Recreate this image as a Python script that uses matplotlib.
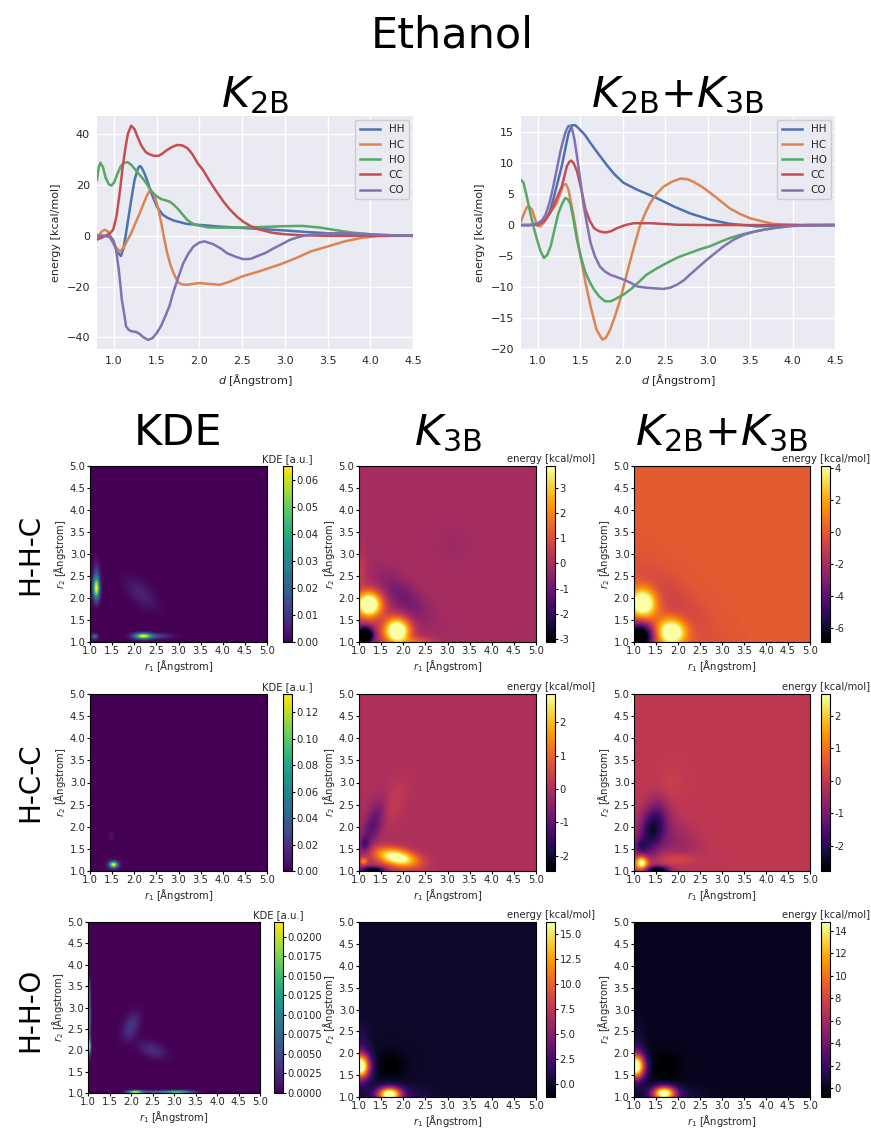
import numpy as np
import matplotlib.pyplot as plt

# ---------------- pair potentials ----------------
pairs = ["HH", "HC", "HO", "CC", "CO"]
pair_colors = ["#4c72b0", "#dd8452", "#55a868", "#c44e52", "#8172b3"]

# K_2B
k2b_hh_d = [0.8, 0.9, 0.95, 1.0, 1.04, 1.08, 1.11, 1.14, 1.17, 1.2, 1.24, 1.28, 1.3, 1.32, 1.35, 1.38,
            1.41, 1.44, 1.5, 1.57, 1.63, 1.7, 1.85, 2.0, 2.25, 2.5, 2.75, 3.0, 3.25, 3.5, 3.75, 4.0, 4.25, 4.5]
k2b_hh_e = [0, 0, -0.5, -3.5, -6.5, -8, -5, 1, 7.5, 14, 22, 26.6, 27.5, 27, 25, 22.5,
            19.5, 16.5, 11.5, 8.3, 7, 6, 4.7, 4.3, 3.6, 3.1, 2.6, 2.1, 1.5, 1.0, 0.6, 0.3, 0.1, 0]
k2b_hc_d = [0.8, 0.85, 0.89, 0.93, 0.97, 1.02, 1.07, 1.12, 1.16, 1.2, 1.25, 1.3, 1.34, 1.38, 1.42, 1.46,
            1.49, 1.52, 1.55, 1.58, 1.62, 1.66, 1.7, 1.75, 1.8, 1.86, 1.93, 2.0, 2.12, 2.24, 2.36, 2.5,
            2.7, 2.95, 3.15, 3.3, 3.5, 3.7, 3.9, 4.1, 4.3, 4.5]
k2b_hc_e = [-1, 1.5, 2.4, 1.7, -1, -4.5, -6.2, -4.2, -1.5, 1, 5, 8.9, 12.2, 15.5, 18, 16.8,
            14, 10.2, 5.5, 0, -6.5, -11.5, -15, -18.4, -19.2, -19.3, -18.9, -18.6, -19, -19.3, -18, -16,
            -14, -11.2, -8.5, -6.2, -4.2, -2.2, -0.8, -0.1, 0, 0]
k2b_ho_d = [0.8, 0.82, 0.84, 0.87, 0.9, 0.94, 0.97, 1.0, 1.04, 1.08, 1.12, 1.16, 1.2, 1.25, 1.3, 1.35,
            1.4, 1.45, 1.5, 1.55, 1.6, 1.65, 1.7, 1.75, 1.8, 1.85, 1.9, 1.95, 2.0, 2.1, 2.25, 2.5,
            2.75, 3.0, 3.2, 3.4, 3.6, 3.8, 4.0, 4.25, 4.5]
k2b_ho_e = [22, 27, 28.8, 27, 23, 20.2, 19.8, 21, 24.5, 27.5, 28.8, 29, 28, 26, 24, 22,
            19.5, 17, 15.5, 14.5, 14, 13.5, 12.2, 10.5, 8.5, 6.5, 5.2, 4.3, 4, 3.3, 3.2, 3.3,
            3.5, 3.8, 3.9, 3.3, 2.2, 1.2, 0.6, 0.2, 0]
k2b_cc_d = [0.8, 0.85, 0.9, 0.95, 0.99, 1.03, 1.07, 1.1, 1.13, 1.16, 1.2, 1.24, 1.28, 1.32, 1.37, 1.42,
            1.47, 1.52, 1.57, 1.62, 1.68, 1.74, 1.8, 1.86, 1.92, 1.98, 2.04, 2.12, 2.2, 2.28, 2.36,
            2.44, 2.51, 2.6, 2.7, 2.85, 3.0, 3.2, 3.5, 4.0, 4.5]
k2b_cc_e = [-1.5, -0.8, 0, 1, 2.4, 8, 18, 27, 34, 40, 43.4, 42, 38.5, 35.5, 33, 32,
            31.5, 31.5, 32.5, 33.8, 35, 35.8, 35.6, 34.5, 32, 28.5, 26, 21.5, 17.4, 13.5, 10.2,
            7.5, 5.6, 3.8, 2.5, 1.2, 0.6, 0.2, 0, 0, 0]
k2b_co_d = [0.8, 0.9, 0.95, 0.99, 1.02, 1.05, 1.07, 1.09, 1.12, 1.14, 1.17, 1.2, 1.26, 1.3, 1.34, 1.4,
            1.45, 1.5, 1.55, 1.6, 1.65, 1.69, 1.75, 1.81, 1.87, 1.93, 2.0, 2.06, 2.16, 2.25, 2.32,
            2.42, 2.51, 2.6, 2.67, 2.77, 2.87, 2.97, 3.06, 3.15, 3.22, 3.35, 3.5, 3.73, 3.9, 4.1, 4.3, 4.5]
k2b_co_e = [0, 0, -0.3, -1.5, -5, -12, -18, -25, -31, -35.7, -37, -37.6, -37.9, -38.7, -39.9, -41,
            -40.3, -38.3, -35.5, -31.7, -27.5, -22.6, -16.5, -10.8, -7, -4.2, -2.6, -2.2, -3.3, -5, -6.8,
            -8.2, -9.2, -9.1, -8.1, -6.8, -4.9, -3.2, -1.6, -0.6, 0, 0.6, 1.0, 1.0, 0.8, 0.4, 0.1, 0]

# K_2B + K_3B
k23_hh_d = [0.8, 0.9, 1.0, 1.05, 1.09, 1.14, 1.18, 1.23, 1.28, 1.32, 1.36, 1.4, 1.44, 1.48, 1.55,
            1.62, 1.7, 1.81, 1.9, 2.01, 2.17, 2.4, 2.6, 2.79, 3.03, 3.26, 3.58, 3.89, 4.2, 4.5]
k23_hh_e = [0, 0, 0.1, 0.4, 0.9, 2.2, 4.1, 6.8, 9.5, 12.2, 14.8, 16.1, 16.1, 15.6, 14.6,
            13.2, 11.7, 9.7, 8.2, 6.8, 5.7, 4.35, 3.0, 1.9, 0.86, 0.2, -0.2, -0.1, 0, 0]
k23_hc_d = [0.8, 0.84, 0.87, 0.9, 0.93, 0.96, 0.99, 1.03, 1.08, 1.13, 1.18, 1.22, 1.26, 1.3, 1.33,
            1.36, 1.39, 1.42, 1.46, 1.5, 1.56, 1.62, 1.69, 1.76, 1.8, 1.85, 1.91, 1.97, 2.03, 2.09,
            2.15, 2.2, 2.26, 2.32, 2.4, 2.48, 2.58, 2.68, 2.76, 2.83, 2.93, 3.03, 3.15, 3.26, 3.38,
            3.5, 3.64, 3.77, 3.9, 4.1, 4.5]
k23_hc_e = [0.6, 2.0, 2.9, 2.9, 2.5, 1.2, -0.1, -0.2, 0.6, 1.7, 2.7, 3.5, 5.0, 6.5, 6.6,
            5.7, 3.6, 1.4, -1.8, -5, -9.3, -13.1, -16.9, -18.5, -18.2, -16.9, -14.6, -12.0, -8.8, -5.6,
            -2.6, -0.2, 1.8, 3.5, 5.1, 6.2, 7.0, 7.5, 7.4, 7.0, 6.2, 5.2, 3.9, 2.7, 1.8,
            1.1, 0.6, 0.2, 0.1, 0, 0]
k23_ho_d = [0.8, 0.83, 0.87, 0.91, 0.95, 0.99, 1.03, 1.07, 1.11, 1.15, 1.19, 1.24, 1.28, 1.32, 1.35,
            1.38, 1.42, 1.46, 1.51, 1.56, 1.61, 1.66, 1.72, 1.79, 1.86, 1.93, 2.01, 2.09, 2.18, 2.28,
            2.4, 2.52, 2.65, 2.79, 2.91, 3.03, 3.15, 3.26, 3.38, 3.5, 3.64, 3.77, 3.9, 4.0, 4.2, 4.5]
k23_ho_e = [7.3, 6.8, 4.5, 1.9, -0.4, -2.4, -4.2, -5.3, -4.8, -3.4, -1.0, 1.9, 3.3, 4.35, 4.2,
            3.5, 0.8, -2.4, -5.3, -7.7, -9.2, -10.4, -11.5, -12.3, -12.3, -11.8, -11.2, -10.4, -9.3, -8.0,
            -7.0, -6.1, -5.2, -4.5, -3.9, -3.4, -2.7, -2.1, -1.6, -1.2, -0.8, -0.5, -0.3, -0.1, 0, 0]
k23_cc_d = [0.8, 0.9, 1.0, 1.05, 1.09, 1.14, 1.18, 1.23, 1.28, 1.31, 1.34, 1.37, 1.39, 1.42, 1.46,
            1.51, 1.56, 1.61, 1.66, 1.72, 1.79, 1.86, 1.93, 2.03, 2.13, 2.32, 2.64, 3.0, 3.5, 4.5]
k23_cc_e = [0, 0, 0.1, 0.4, 0.9, 1.9, 3.0, 4.6, 6.2, 7.8, 9.5, 10.2, 10.4, 10.0, 8.7,
            5.8, 2.5, 0.7, -0.5, -1.0, -1.2, -1.0, -0.5, 0.0, 0.3, 0.3, 0.05, 0, 0, 0]
k23_co_d = [0.8, 0.9, 1.0, 1.05, 1.09, 1.14, 1.18, 1.22, 1.26, 1.29, 1.32, 1.34, 1.36, 1.38, 1.4,
            1.43, 1.46, 1.5, 1.54, 1.58, 1.62, 1.67, 1.73, 1.79, 1.85, 1.93, 2.01, 2.09, 2.17, 2.27,
            2.36, 2.48, 2.56, 2.64, 2.72, 2.79, 2.89, 2.99, 3.09, 3.19, 3.3, 3.42, 3.54, 3.66, 3.8,
            3.93, 4.1, 4.5]
k23_co_e = [0, 0, 0.3, 0.8, 1.7, 3.8, 6.2, 8.9, 11.6, 13.3, 14.8, 15.5, 16.0, 16.0, 15.6,
            13.8, 11.1, 7.1, 3.0, 0.0, -2.9, -5.0, -6.7, -7.5, -8.0, -8.4, -8.8, -9.3, -9.9, -10.1,
            -10.2, -10.3, -10.1, -9.6, -8.9, -8.0, -6.8, -5.6, -4.5, -3.4, -2.4, -1.6, -1.1, -0.75, -0.45,
            -0.2, -0.1, 0]

k2b_curves = [(k2b_hh_d, k2b_hh_e), (k2b_hc_d, k2b_hc_e), (k2b_ho_d, k2b_ho_e),
              (k2b_cc_d, k2b_cc_e), (k2b_co_d, k2b_co_e)]
k23_curves = [(k23_hh_d, k23_hh_e), (k23_hc_d, k23_hc_e), (k23_ho_d, k23_ho_e),
              (k23_cc_d, k23_cc_e), (k23_co_d, k23_co_e)]

k2b_yticks = [-40, -20, 0, 20, 40]
k23_yticks = [-20, -15, -10, -5, 0, 5, 10, 15]
d_ticks = [1.0, 1.5, 2.0, 2.5, 3.0, 3.5, 4.0, 4.5]

# ---------------- triplet maps: blobs (x, y, sx, sy, angle, amplitude) ----
triplets = ["H-H-C", "H-C-C", "H-H-O"]

kde_hhc = [(1.14, 2.22, 0.05, 0.17, 0, 0.065), (1.14, 2.55, 0.05, 0.2, 0, 0.01),
           (2.2, 1.13, 0.14, 0.045, 0, 0.065), (2.55, 1.13, 0.2, 0.04, 0, 0.012),
           (1.1, 1.12, 0.05, 0.04, 0, 0.022), (2.15, 2.1, 0.3, 0.15, -45, 0.006)]
kde_hcc = [(1.53, 1.14, 0.06, 0.045, 0, 0.125), (1.53, 1.14, 0.1, 0.07, 0, 0.02),
           (1.49, 1.8, 0.04, 0.08, 0, 0.007)]
kde_hho = [(1.02, 2.08, 0.025, 0.12, 0, 0.021), (1.02, 2.75, 0.025, 0.4, 0, 0.012),
           (1.02, 3.4, 0.02, 0.15, 0, 0.006), (2.1, 1.02, 0.12, 0.025, 0, 0.022),
           (3.1, 1.02, 0.22, 0.025, 0, 0.016), (2.6, 1.02, 0.25, 0.02, 0, 0.008),
           (2.0, 2.55, 0.12, 0.22, -20, 0.0035), (2.5, 2.0, 0.22, 0.12, -20, 0.0028)]

k3b_hhc = [(1.22, 1.85, 0.2, 0.2, 0, 5.5), (1.85, 1.25, 0.2, 0.2, 0, 5.5),
           (1.13, 1.15, 0.12, 0.12, 0, -6.0), (2.0, 2.0, 0.5, 0.22, -45, -0.9),
           (1.0, 2.6, 0.12, 0.3, 0, 0.6), (2.3, 1.0, 0.25, 0.08, 0, 1.2),
           (3.1, 3.2, 0.25, 0.25, 0, -0.15)]
k3b_hcc = [(1.85, 1.3, 0.32, 0.13, -12, 3.4), (1.1, 1.22, 0.06, 0.06, 0, 1.5),
           (1.3, 1.0, 0.18, 0.06, 0, -3.0), (1.32, 2.05, 0.14, 0.4, -20, -1.1),
           (1.12, 1.6, 0.08, 0.12, 0, -0.9), (1.75, 2.55, 0.18, 0.4, -20, 0.35)]
k3b_hho = [(1.03, 1.7, 0.14, 0.19, 0, 18), (1.68, 1.06, 0.18, 0.11, 0, 18),
           (1.02, 1.9, 0.15, 0.45, 0, 2.0), (1.9, 1.02, 0.45, 0.15, 0, 1.5),
           (1.72, 1.72, 0.22, 0.22, 0, -1.4)]

k23_hhc = [(1.2, 1.88, 0.2, 0.22, 0, 6.5), (1.85, 1.22, 0.22, 0.2, 0, 6.5),
           (1.12, 1.12, 0.22, 0.22, 0, -9.0), (1.9, 1.9, 0.8, 0.3, -45, -0.8)]
k23_hcc = [(1.17, 1.18, 0.1, 0.1, 0, 3.4), (1.53, 1.0, 0.18, 0.07, 0, -3.3),
           (1.42, 1.95, 0.2, 0.45, -15, -2.0), (1.15, 1.55, 0.1, 0.12, 0, -1.0),
           (2.0, 1.27, 0.3, 0.1, 0, 0.6), (1.75, 2.8, 0.2, 0.35, -15, 0.25),
           (1.85, 1.7, 0.5, 0.3, -35, -0.6)]
k23_hho = [(1.04, 1.7, 0.14, 0.19, 0, 16), (1.68, 1.08, 0.18, 0.11, 0, 16),
           (1.02, 1.9, 0.15, 0.45, 0, 1.8), (1.9, 1.02, 0.45, 0.15, 0, 1.3),
           (1.72, 1.7, 0.22, 0.22, 0, -1.0)]

maps = [[kde_hhc, k3b_hhc, k23_hhc],
        [kde_hcc, k3b_hcc, k23_hcc],
        [kde_hho, k3b_hho, k23_hho]]
map_ranges = [[(0, 0.065), (-3.1, 3.85), (-6.85, 4.1)],
              [(0, 0.134), (-2.45, 2.84), (-2.78, 2.68)],
              [(0, 0.0219), (-1.3, 16.2), (-0.8, 14.8)]]
cbar_ticks = [[[0, 0.01, 0.02, 0.03, 0.04, 0.05, 0.06], [-3, -2, -1, 0, 1, 2, 3], [-6, -4, -2, 0, 2, 4]],
              [[0, 0.02, 0.04, 0.06, 0.08, 0.10, 0.12], [-2, -1, 0, 1, 2], [-2, -1, 0, 1, 2]],
              [[0, 0.0025, 0.005, 0.0075, 0.01, 0.0125, 0.015, 0.0175, 0.02],
               [0, 2.5, 5, 7.5, 10, 12.5, 15], [0, 2, 4, 6, 8, 10, 12, 14]]]
cbar_fmt = [["%.2f", "%g", "%g"], ["%.2f", "%g", "%g"], ["%.4f", "%.1f", "%g"]]
r_ticks = [1.0, 1.5, 2.0, 2.5, 3.0, 3.5, 4.0, 4.5, 5.0]


def field(blobs, n=400):
    g = np.linspace(1, 5, n)
    X, Y = np.meshgrid(g, g)
    Z = np.zeros_like(X)
    for x0, y0, sx, sy, ang, amp in blobs:
        t = np.deg2rad(ang)
        u = (X - x0) * np.cos(t) + (Y - y0) * np.sin(t)
        v = -(X - x0) * np.sin(t) + (Y - y0) * np.cos(t)
        Z += amp * np.exp(-0.5 * ((u / sx) ** 2 + (v / sy) ** 2))
    return Z


W, H = 871, 1128
fig = plt.figure(figsize=(W / 100, H / 100), dpi=100)


def box(x0, y0, x1, y1):
    return [x0 / W, 1 - y1 / H, (x1 - x0) / W, (y1 - y0) / H]


fig.text(452 / W, 1 - 48 / H, "Ethanol", fontsize=31, ha="center", va="baseline")

# ---------------- line plots ----------------
line_boxes = [box(97, 116, 413, 349), box(521, 116, 835, 349)]
line_sets = [(k2b_curves, k2b_yticks, (-44.6, 47.2), r"$K_{\rm 2B}$"),
             (k23_curves, k23_yticks, (-20.0, 17.6), r"$K_{\rm 2B}$+$K_{\rm 3B}$")]
for bx, (curves, yt, ylim, title) in zip(line_boxes, line_sets):
    ax = fig.add_axes(bx)
    ax.set_facecolor("#EAEAF2")
    for name, col, (d, e) in zip(pairs, pair_colors, curves):
        ax.plot(d, e, color=col, lw=1.8, label=name, solid_joinstyle="round")
    ax.set_xlim(0.8, 4.5)
    ax.set_ylim(*ylim)
    ax.set_xticks(d_ticks)
    ax.set_yticks(yt)
    ax.grid(True, color="white", lw=1.0)
    ax.set_axisbelow(True)
    for s in ax.spines.values():
        s.set_visible(False)
    ax.tick_params(length=0, labelsize=8, labelcolor="0.15", pad=5)
    ax.set_xlabel(r"$d$ [Ångstrom]", fontsize=8, color="0.15")
    ax.set_ylabel("energy [kcal/mol]", fontsize=8, color="0.15")
    ax.set_title(title, fontsize=31, pad=3)
    leg = ax.legend(loc="upper right", fontsize=7.5, facecolor="#EAEAF2", edgecolor="0.8",
                    framealpha=1, borderaxespad=0.4)
    for t in leg.get_texts():
        t.set_color("0.15")

# ---------------- heatmaps ----------------
col_x = [(90, 267), (359, 536), (634, 810)]
cbar_x = [(283, 292), (546, 555), (821, 830)]
row_y = [(466, 642), (694, 871), (922, 1097)]
col_titles = ["KDE", r"$K_{\rm 3B}$", r"$K_{\rm 2B}$+$K_{\rm 3B}$"]
cbar_titles = ["KDE [a.u.]", "energy [kcal/mol]", "energy [kcal/mol]"]
cmaps = ["viridis", "inferno", "inferno"]

for i in range(3):
    for j in range(3):
        x0, x1 = col_x[j]
        y0, y1 = row_y[i]
        c0, c1 = cbar_x[j]
        if i == 2 and j == 0:
            x0, x1, y1 = 88, 260, 1093
            c0, c1 = 274, 283
        ax = fig.add_axes(box(x0, y0, x1, y1))
        vmin, vmax = map_ranges[i][j]
        im = ax.imshow(field(maps[i][j]), origin="lower", extent=[1, 5, 1, 5], aspect="auto",
                       cmap=cmaps[j], vmin=vmin, vmax=vmax, interpolation="bilinear")
        ax.set_xticks(r_ticks)
        ax.set_yticks(r_ticks)
        ax.tick_params(labelsize=7.2, length=2, pad=1.2, labelcolor="0.15")
        ax.set_xlabel(r"$r_1$ [Ångstrom]", fontsize=7.2, color="0.15", labelpad=1)
        ax.set_ylabel(r"$r_2$ [Ångstrom]", fontsize=7.2, color="0.15", labelpad=1)
        if i == 0:
            ax.set_title(col_titles[j], fontsize=31, pad=15)
        cax = fig.add_axes(box(c0, y0, c1, y1))
        cb = fig.colorbar(im, cax=cax, ticks=cbar_ticks[i][j], format=cbar_fmt[i][j])
        cb.ax.tick_params(labelsize=7.2, length=2, pad=1.2, labelcolor="0.15")
        cax.set_title(cbar_titles[j], fontsize=7.2, pad=3, color="0.15")
    yc = (row_y[i][0] + row_y[i][1]) / 2
    fig.text(30 / W, 1 - yc / H, triplets[i], fontsize=20, rotation=90, ha="center", va="center")

fig.savefig("out.png", dpi=100)
